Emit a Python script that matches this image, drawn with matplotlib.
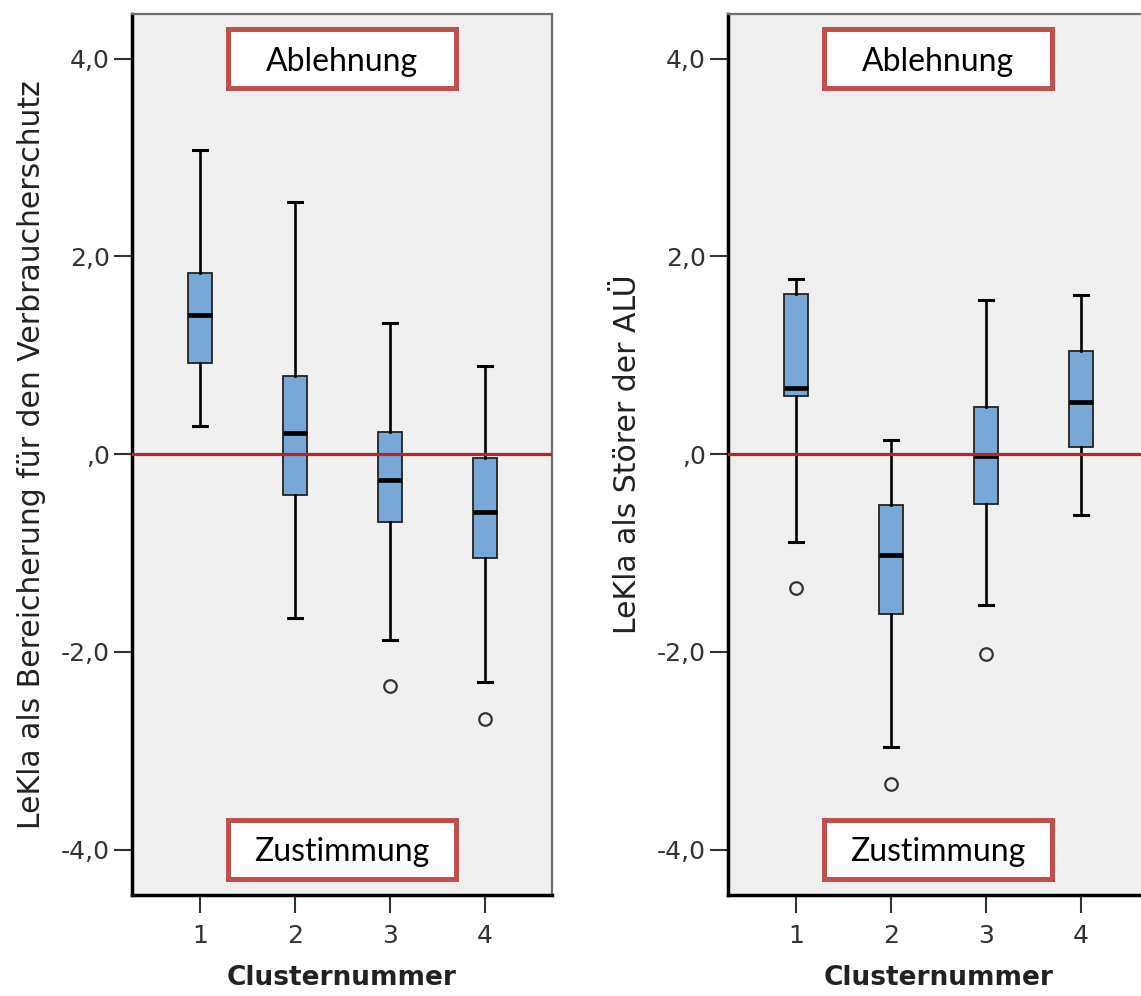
import matplotlib.pyplot as plt
from matplotlib.patches import Rectangle

plt.rcParams['font.family'] = ['DejaVu Sans']

# cluster numbers on the x axis
clusters = [1, 2, 3, 4]

# LeKla als Bereicherung fuer den Verbraucherschutz (left panel)
ber_whislo = [0.28, -1.66, -1.88, -2.31]
ber_q1 = [0.92, -0.415, -0.69, -1.05]
ber_med = [1.41, 0.21, -0.26, -0.59]
ber_q3 = [1.83, 0.79, 0.22, -0.04]
ber_whishi = [3.08, 2.55, 1.33, 0.89]
ber_fliers = [[], [], [-2.35], [-2.68]]

# LeKla als Stoerer der ALUe (right panel)
stoer_whislo = [-0.89, -2.96, -1.53, -0.62]
stoer_q1 = [0.59, -1.62, -0.51, 0.07]
stoer_med = [0.67, -1.02, -0.02, 0.53]
stoer_q3 = [1.62, -0.52, 0.48, 1.04]
stoer_whishi = [1.77, 0.14, 1.56, 1.61]
stoer_fliers = [[-1.36], [-3.34], [-2.02], []]

ytick_values = [-4, -2, 0, 2, 4]
ytick_labels = ['-4,0', '-2,0', ',0', '2,0', '4,0']

BOX_BLUE = '#79a8d6'
RED_LINE = '#b3262d'
FRAME_RED = '#c0504d'
GREY_TXT = '#333333'


def cluster_stats(whislo, q1, med, q3, whishi, fliers):
    stats = []
    for k, lo, a, m, b, hi, fl in zip(clusters, whislo, q1, med, q3, whishi, fliers):
        stats.append(dict(label=str(k), whislo=lo, q1=a, med=m, q3=b,
                          whishi=hi, fliers=fl))
    return stats


def note_box(ax, yc, text):
    # white label box with a red frame, same size in both panels
    ax.add_patch(Rectangle((1.29, yc - 0.30), 2.40, 0.60, facecolor='white',
                           edgecolor=FRAME_RED, lw=3.6, zorder=6))
    ax.text(2.49, yc - 0.03, text, ha='center', va='center', fontsize=23,
            family='Lato', color='black', zorder=7)


def draw_panel(ax, stats, ylabel):
    ax.set_facecolor('#f0f0f0')
    ax.bxp(stats, positions=clusters, widths=0.26, capwidths=0.14,
           patch_artist=True, showfliers=True,
           boxprops=dict(facecolor=BOX_BLUE, edgecolor='#222222', linewidth=1.3),
           medianprops=dict(color='black', linewidth=3.4),
           whiskerprops=dict(color='black', linewidth=1.9),
           capprops=dict(color='black', linewidth=2.2),
           flierprops=dict(marker='o', markerfacecolor='none',
                           markeredgecolor='#333333', markersize=9,
                           markeredgewidth=1.6))
    ax.axhline(0, color=RED_LINE, lw=2.3, zorder=5)

    note_box(ax, 4.0, 'Ablehnung')
    note_box(ax, -4.0, 'Zustimmung')

    ax.set_xlim(0.284, 4.705)
    ax.set_ylim(-4.46, 4.45)
    ax.set_xticks(clusters)
    ax.set_xticklabels([str(k) for k in clusters])
    ax.set_yticks(ytick_values)
    ax.set_yticklabels(ytick_labels)
    ax.tick_params(length=13, width=1.5, color=GREY_TXT, labelcolor=GREY_TXT,
                   labelsize=18)
    ax.tick_params(axis='x', pad=8)
    ax.tick_params(axis='y', pad=3)

    for side in ['left', 'bottom']:
        ax.spines[side].set_linewidth(2.5)
        ax.spines[side].set_color('black')
    for side in ['top', 'right']:
        ax.spines[side].set_linewidth(1.6)
        ax.spines[side].set_color('#6f6f6f')

    ax.set_xlabel('Clusternummer', fontsize=19, fontweight='bold', color='#222222')
    ax.set_ylabel(ylabel, fontsize=21.5, color='#222222')
    ax.xaxis.set_label_coords(0.5, -0.080)
    ax.yaxis.set_label_coords(-0.205, 0.5)


fig = plt.figure(figsize=(11.41, 9.96), dpi=100)
ax_left = fig.add_axes([0.1157, 0.1014, 0.3681, 0.8845])
ax_right = fig.add_axes([0.6381, 0.1014, 0.3681, 0.8845])

draw_panel(ax_left, cluster_stats(ber_whislo, ber_q1, ber_med, ber_q3,
                                  ber_whishi, ber_fliers),
           'LeKla als Bereicherung für den Verbraucherschutz')
draw_panel(ax_right, cluster_stats(stoer_whislo, stoer_q1, stoer_med, stoer_q3,
                                   stoer_whishi, stoer_fliers),
           'LeKla als Störer der ALÜ')

fig.savefig('out.png', dpi=100)
